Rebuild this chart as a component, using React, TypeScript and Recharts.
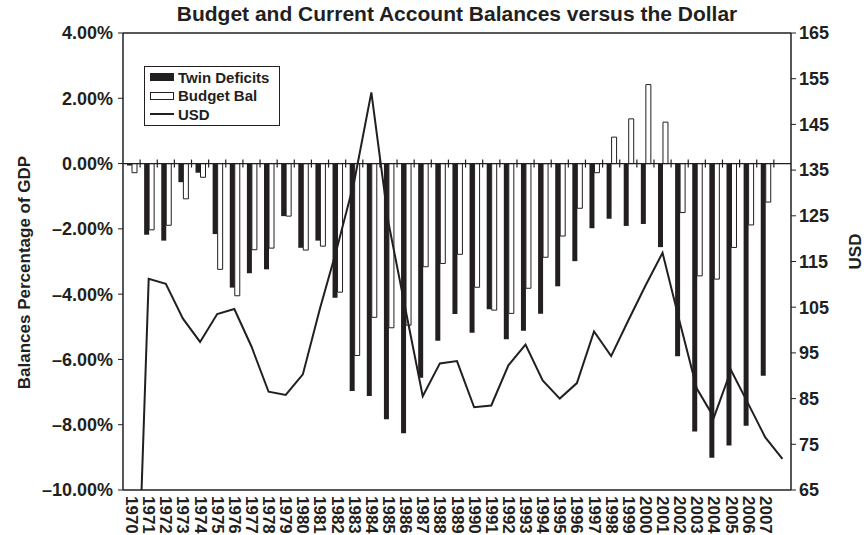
import { Bar, ComposedChart, Legend, Line, ReferenceLine, XAxis, YAxis } from 'recharts';

const INK = '#231f20';
const FONT = '"Liberation Sans", Arial, Helvetica, sans-serif';

const years = [
  '1970', '1971', '1972', '1973', '1974', '1975', '1976', '1977', '1978', '1979',
  '1980', '1981', '1982', '1983', '1984', '1985', '1986', '1987', '1988', '1989',
  '1990', '1991', '1992', '1993', '1994', '1995', '1996', '1997', '1998', '1999',
  '2000', '2001', '2002', '2003', '2004', '2005', '2006', '2007', '2008',
];

// the last year only has a dollar value and no axis label
const labeledYears = years.slice(0, 38);

const seriesNames = ['Twin Deficits', 'Budget Bal', 'USD'];

const twinDeficits = [
  -0.06, -2.18, -2.36, -0.57, -0.28, -2.16, -3.8, -3.36, -3.24, -1.61,
  -2.58, -2.36, -4.11, -6.97, -7.12, -7.83, -8.26, -6.56, -5.43, -4.61,
  -5.18, -4.46, -5.38, -5.12, -4.6, -3.76, -2.99, -1.98, -1.69, -1.91,
  -1.85, -2.56, -5.9, -8.21, -9.01, -8.64, -8.03, -6.5, null,
];

const budgetBal = [
  -0.28, -2.03, -1.89, -1.08, -0.42, -3.24, -4.05, -2.64, -2.59, -1.61,
  -2.65, -2.53, -3.94, -5.88, -4.71, -5.03, -4.95, -3.16, -3.06, -2.78,
  -3.79, -4.49, -4.59, -3.82, -2.87, -2.22, -1.37, -0.28, 0.81, 1.37,
  2.42, 1.27, -1.5, -3.44, -3.54, -2.57, -1.88, -1.18, null,
];

const usd = [
  0, 111.2, 110.1, 102.5, 97.4, 103.5, 104.6, 96.4, 86.5, 85.8,
  90.3, 104.7, 118.0, 132.5, 152.0, 123.5, 104.4, 85.5, 92.7, 93.2,
  83.1, 83.5, 92.3, 96.8, 89.0, 85.0, 88.4, 99.7, 94.3, 102.1,
  109.7, 116.9, 101.8, 87.2, 80.9, 91.2, 83.9, 76.5, 71.8,
];

const pctDomain = [-10, 4];
const pctTicks = [-10, -8, -6, -4, -2, 0, 2, 4];
const usdTicks = [65, 75, 85, 95, 105, 115, 125, 135, 145, 155, 165];

const data = years.map((year, i) => ({
  year,
  twin: twinDeficits[i],
  budget: budgetBal[i],
  usd: usd[i],
}));

const fmtPct = (v: number) => (v < 0 ? '\u2013' : '') + Math.abs(v).toFixed(2) + '%';

const YearTick = ({ x, y, payload }: any) => {
  if (!labeledYears.includes(payload.value)) return <g />;
  return (
    <text
      x={x}
      y={y}
      transform={`rotate(90 ${x} ${y})`}
      textAnchor="start"
      dominantBaseline="central"
      fontSize={17}
      fontWeight="bold"
      fontFamily={FONT}
      fill={INK}
    >
      {payload.value}
    </text>
  );
};

// vertical reference line at a category boundary, trimmed to a short tick on the zero line
const ZeroTick = (props: any) => {
  const x = Number(props.x1);
  const top = Math.min(Number(props.y1), Number(props.y2));
  const bottom = Math.max(Number(props.y1), Number(props.y2));
  const y0 = top + ((bottom - top) * pctDomain[1]) / (pctDomain[1] - pctDomain[0]);
  return <line x1={x} x2={x} y1={y0 - 4} y2={y0 + 4} stroke={INK} strokeWidth={1.2} />;
};

const LegendBox = ({ payload }: any) => {
  const items = [...(payload || [])].sort(
    (a: any, b: any) => seriesNames.indexOf(a.value) - seriesNames.indexOf(b.value),
  );
  return (
    <div
      style={{
        border: `1px solid ${INK}`,
        background: '#fff',
        padding: '1px 10px 1px 5px',
        fontFamily: FONT,
        fontWeight: 'bold',
        fontSize: 15,
        color: INK,
      }}
    >
      {items.map((entry: any) => (
        <div key={entry.value} style={{ display: 'flex', alignItems: 'center', height: 18.5 }}>
          <svg width={25} height={10} style={{ marginRight: 3 }}>
            {entry.type === 'line' ? (
              <line x1={0} y1={5} x2={24} y2={5} stroke={INK} strokeWidth={2} />
            ) : (
              <rect x={0.5} y={1.5} width={23} height={7} fill={entry.color} stroke={INK} strokeWidth={1} />
            )}
          </svg>
          <span>{entry.value}</span>
        </div>
      ))}
    </div>
  );
};

const LeftTitle = ({ viewBox }: any) => {
  const x = viewBox.x + 24;
  const y = viewBox.y + viewBox.height / 2 + 11;
  return (
    <text
      x={x}
      y={y}
      transform={`rotate(-90 ${x} ${y})`}
      textAnchor="middle"
      dominantBaseline="central"
      fontSize={17}
      fontWeight="bold"
      fontFamily={FONT}
      fill={INK}
    >
      Balances Percentage of GDP
    </text>
  );
};

const RightTitle = ({ viewBox }: any) => {
  const x = viewBox.x + 64;
  const y = viewBox.y + viewBox.height / 2 - 10;
  return (
    <text
      x={x}
      y={y}
      transform={`rotate(-90 ${x} ${y})`}
      textAnchor="middle"
      dominantBaseline="central"
      fontSize={17}
      fontWeight="bold"
      fontFamily={FONT}
      fill={INK}
    >
      USD
    </text>
  );
};

const tickStyle = { fontSize: 18, fontWeight: 'bold', fontFamily: FONT, fill: INK };

export default function App() {
  return (
    <div
      style={{
        position: 'absolute',
        left: 0,
        top: 0,
        width: 868,
        height: 535,
        background: '#fff',
        fontFamily: FONT,
        overflow: 'hidden',
      }}
    >
      <div
        style={{
          position: 'absolute',
          left: 123,
          top: 2,
          width: 668,
          textAlign: 'center',
          fontSize: 21,
          fontWeight: 'bold',
          color: INK,
        }}
      >
        Budget and Current Account Balances versus the Dollar
      </div>
      <ComposedChart
        width={868}
        height={535}
        data={data}
        margin={{ top: 33, right: 0, bottom: 0, left: 0 }}
        barGap={0}
        barSize={5}
      >
        <XAxis
          dataKey="year"
          interval={0}
          height={45}
          tickLine={false}
          tickSize={4}
          tick={<YearTick />}
          axisLine={{ stroke: INK, strokeWidth: 1.5 }}
        />
        <YAxis
          yAxisId="left"
          width={123}
          domain={pctDomain}
          ticks={pctTicks}
          tickFormatter={fmtPct}
          tick={tickStyle}
          tickSize={5}
          tickMargin={5}
          tickLine={{ stroke: INK }}
          axisLine={{ stroke: INK, strokeWidth: 1.5 }}
          label={<LeftTitle />}
        />
        <YAxis
          yAxisId="right"
          orientation="right"
          width={77}
          domain={[65, 165]}
          ticks={usdTicks}
          allowDataOverflow
          tick={tickStyle}
          tickSize={5}
          tickMargin={3}
          tickLine={{ stroke: INK }}
          axisLine={{ stroke: INK, strokeWidth: 1.5 }}
          label={<RightTitle />}
        />
        <ReferenceLine yAxisId="left" y={4} stroke={INK} strokeWidth={1.5} />
        <ReferenceLine yAxisId="left" y={0} stroke={INK} strokeWidth={1.3} />
        {years.slice(1).map((yr) => (
          <ReferenceLine
            key={yr}
            yAxisId="left"
            x={yr}
            position="start"
            stroke={INK}
            shape={(p: any) => <ZeroTick {...p} />}
          />
        ))}
        <Legend
          layout="vertical"
          align="center"
          verticalAlign="middle"
          wrapperStyle={{ left: 144, top: 66, width: 'auto' }}
          content={<LegendBox />}
        />
        <Bar
          yAxisId="left"
          dataKey="twin"
          name="Twin Deficits"
          fill={INK}
          legendType="rect"
          isAnimationActive={false}
        />
        <Bar
          yAxisId="left"
          dataKey="budget"
          name="Budget Bal"
          fill="#ffffff"
          stroke={INK}
          strokeWidth={1}
          legendType="rect"
          isAnimationActive={false}
        />
        <Line
          yAxisId="right"
          dataKey="usd"
          name="USD"
          type="linear"
          stroke={INK}
          strokeWidth={2}
          dot={false}
          legendType="line"
          isAnimationActive={false}
        />
      </ComposedChart>
    </div>
  );
}
